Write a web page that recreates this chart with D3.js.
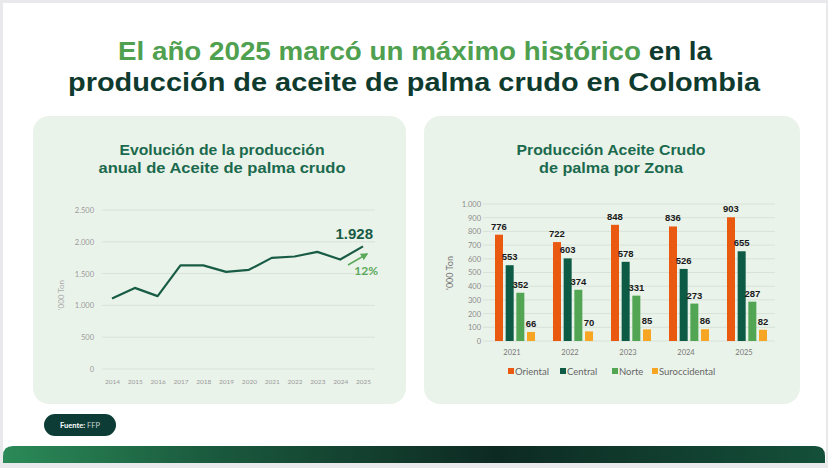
<!DOCTYPE html>
<html>
<head>
<meta charset="utf-8">
<script src="https://cdn.jsdelivr.net/npm/d3@7"></script>
<style>
  body { margin: 0; background: #fff; }
  svg { display: block; }
</style>
</head>
<body>
<div id="chart"></div>
<script>
// data
const years = ['2014','2015','2016','2017','2018','2019','2020','2021','2022','2023','2024','2025'];
const production = [1110, 1275, 1146, 1628, 1630, 1527, 1559, 1747, 1769, 1842, 1721, 1928];
const lineTicks = [0, 500, 1000, 1500, 2000, 2500];

const zoneYears = ['2021','2022','2023','2024','2025'];
const zones = ['Oriental','Central','Norte','Suroccidental'];
const oriental = [776, 722, 848, 836, 903];
const central = [553, 603, 578, 526, 655];
const norte = [352, 374, 331, 273, 287];
const suroccidental = [66, 70, 85, 86, 82];
const barTicks = [0,100,200,300,400,500,600,700,800,900,1000];

const zoneColors = ['#e9590f', '#0d5a45', '#52a552', '#f6a623'];

const width = 828, height = 468;
const fmt = d3.format(',');
const esNum = v => fmt(v).replace(/,/g, '.');
const font = 'Lato, "Open Sans", sans-serif';

const svg = d3.select('#chart').append('svg')
  .attr('width', width)
  .attr('height', height);

// page frame
svg.append('rect').attr('width', width).attr('height', height).attr('fill', '#e9e9ec');
svg.append('rect').attr('x', 3).attr('y', 3).attr('width', width - 5).attr('height', 460).attr('fill', '#fff');

// bottom band
const grad = svg.append('defs').append('linearGradient').attr('id', 'band');
grad.append('stop').attr('offset', '0%').attr('stop-color', '#2b8a57');
grad.append('stop').attr('offset', '25%').attr('stop-color', '#1a5a3e');
grad.append('stop').attr('offset', '60%').attr('stop-color', '#0d2a22');
grad.append('stop').attr('offset', '100%').attr('stop-color', '#14503a');
svg.append('path')
  .attr('d', 'M3,463 L3,456 Q3,446 13,446 L815,446 Q825,446 825,456 L825,463 Z')
  .attr('fill', 'url(#band)');

// main title
const t1 = svg.append('text')
  .attr('x', 415).attr('y', 60)
  .attr('text-anchor', 'middle')
  .attr('font-family', '"Liberation Sans", Arial, sans-serif')
  .attr('font-weight', 'bold')
  .attr('font-size', 26)
  .attr('textLength', 594).attr('lengthAdjust', 'spacingAndGlyphs');
t1.append('tspan').attr('fill', '#4fa04f').text('El año 2025 marcó un máximo histórico ');
t1.append('tspan').attr('fill', '#0f3b2f').text('en la');
svg.append('text')
  .attr('x', 414).attr('y', 91)
  .attr('text-anchor', 'middle')
  .attr('font-family', '"Liberation Sans", Arial, sans-serif')
  .attr('font-weight', 'bold')
  .attr('font-size', 26)
  .attr('fill', '#0f3b2f')
  .attr('textLength', 692).attr('lengthAdjust', 'spacingAndGlyphs')
  .text('producción de aceite de palma crudo en Colombia');

// panels
svg.append('rect').attr('x', 33).attr('y', 116).attr('width', 373).attr('height', 288)
  .attr('rx', 16).attr('fill', '#eaf3ea');
svg.append('rect').attr('x', 424).attr('y', 116).attr('width', 376).attr('height', 288)
  .attr('rx', 16).attr('fill', '#eaf3ea');

function panelTitle(lines, cx, ys, lens) {
  lines.forEach((s, i) => {
    svg.append('text')
      .attr('x', cx).attr('y', ys[i])
      .attr('text-anchor', 'middle')
      .attr('font-family', '"Liberation Sans", Arial, sans-serif')
      .attr('font-weight', 'bold')
      .attr('font-size', 15)
      .attr('fill', '#1b6a4e')
      .attr('textLength', lens[i]).attr('lengthAdjust', 'spacingAndGlyphs')
      .text(s);
  });
}
panelTitle(['Evolución de la producción', 'anual de Aceite de palma crudo'], 222, [155, 173], [205, 247]);
panelTitle(['Producción Aceite Crudo', 'de palma por Zona'], 611, [155, 173], [189, 144]);

// ---------- line chart ----------
const xL = d3.scalePoint().domain(years).range([112, 363]);
const yL = d3.scaleLinear().domain([0, 2500]).range([369, 210]);

const gL = svg.append('g');
gL.selectAll('.grid').data(lineTicks).enter().append('line')
  .attr('x1', 102).attr('x2', 375)
  .attr('y1', d => yL(d)).attr('y2', d => yL(d))
  .attr('stroke', '#d8e2d8').attr('stroke-width', 1);

const axL = gL.append('g').attr('transform', 'translate(96,0)')
  .call(d3.axisLeft(yL).tickValues(lineTicks).tickSize(0).tickFormat(esNum));
axL.select('.domain').remove();
axL.selectAll('text').attr('font-family', font).attr('font-size', 7.5).attr('fill', '#9a9a9a').attr('x', -2);

const axLx = gL.append('g').attr('transform', 'translate(0,376)')
  .call(d3.axisBottom(xL).tickSize(0));
axLx.select('.domain').remove();
axLx.selectAll('text').attr('font-family', font).attr('font-size', 6.5).attr('fill', '#9a9a9a');

gL.append('text')
  .attr('transform', 'translate(64,295) rotate(-90)')
  .attr('text-anchor', 'middle')
  .attr('font-family', font).attr('font-size', 8).attr('fill', '#aaa')
  .text("'000 Ton");

gL.append('path')
  .datum(production)
  .attr('fill', 'none')
  .attr('stroke', '#185c45')
  .attr('stroke-width', 2.2)
  .attr('stroke-linejoin', 'round')
  .attr('d', d3.line().x((d, i) => xL(years[i])).y(d => yL(d)));

const last = production[production.length - 1];
gL.append('text')
  .attr('x', xL('2025') + 10).attr('y', yL(last) - 7)
  .attr('text-anchor', 'end')
  .attr('font-family', '"Liberation Sans", Arial, sans-serif')
  .attr('font-weight', 'bold').attr('font-size', 15)
  .attr('fill', '#185c45')
  .text(esNum(last));

// growth arrow
const growth = Math.round((last / production[production.length - 2] - 1) * 100);
svg.append('defs').append('marker')
  .attr('id', 'arr').attr('viewBox', '0 0 10 10').attr('refX', 8).attr('refY', 5)
  .attr('markerWidth', 5).attr('markerHeight', 5).attr('orient', 'auto')
  .append('path').attr('d', 'M0,0 L10,5 L0,10 Z').attr('fill', '#5aa95a');
gL.append('line')
  .attr('x1', 348).attr('y1', 265).attr('x2', 367).attr('y2', 254)
  .attr('stroke', '#5aa95a').attr('stroke-width', 1.5)
  .attr('marker-end', 'url(#arr)');
gL.append('text')
  .attr('x', 378).attr('y', 275)
  .attr('text-anchor', 'end')
  .attr('font-family', font).attr('font-weight', 'bold').attr('font-size', 12)
  .attr('fill', '#5aa95a')
  .text(growth + '%');

// ---------- bar chart ----------
const series = [oriental, central, norte, suroccidental];
const x0 = d3.scaleBand().domain(zoneYears).range([486, 776]).paddingInner(0.31).paddingOuter(0.155);
const x1 = d3.scaleBand().domain(zones).range([0, x0.bandwidth()]).paddingInner(0.25);
const yB = d3.scaleLinear().domain([0, 1000]).range([341, 204]);

const gB = svg.append('g');
gB.selectAll('.grid').data(barTicks).enter().append('line')
  .attr('x1', 483).attr('x2', 775)
  .attr('y1', d => yB(d)).attr('y2', d => yB(d))
  .attr('stroke', '#d8e2d8').attr('stroke-width', 1);

const axB = gB.append('g').attr('transform', 'translate(482,0)')
  .call(d3.axisLeft(yB).tickValues(barTicks).tickSize(0).tickFormat(esNum));
axB.select('.domain').remove();
axB.selectAll('text').attr('font-family', font).attr('font-size', 7.5).attr('fill', '#8a8a8a').attr('x', -1);

const axBx = gB.append('g').attr('transform', 'translate(-3,347)')
  .call(d3.axisBottom(x0).tickSize(0));
axBx.select('.domain').remove();
axBx.selectAll('text').attr('font-family', font).attr('font-size', 7.5).attr('fill', '#777');

gB.append('text')
  .attr('transform', 'translate(453,273) rotate(-90)')
  .attr('text-anchor', 'middle')
  .attr('font-family', font).attr('font-size', 9).attr('fill', '#777')
  .text("'000 Ton");

const rows = [];
zoneYears.forEach((yr, i) => {
  zones.forEach((z, j) => rows.push({ year: yr, zone: z, value: series[j][i], color: zoneColors[j] }));
});

gB.selectAll('.bar').data(rows).enter().append('rect')
  .attr('class', 'bar')
  .attr('x', d => x0(d.year) + x1(d.zone))
  .attr('y', d => yB(d.value))
  .attr('width', x1.bandwidth())
  .attr('height', d => yB(0) - yB(d.value))
  .attr('fill', d => d.color);

gB.selectAll('.lbl').data(rows).enter().append('text')
  .attr('x', d => x0(d.year) + x1(d.zone) + x1.bandwidth() / 2)
  .attr('y', d => yB(d.value) - 5)
  .attr('text-anchor', 'middle')
  .attr('font-family', '"Liberation Sans", Arial, sans-serif')
  .attr('font-weight', 'bold').attr('font-size', 9.5)
  .attr('fill', '#1a1a1a')
  .text(d => d.value);

// legend
const legendX = [508, 560, 612, 652];
const leg = gB.selectAll('.leg').data(zones).enter().append('g')
  .attr('transform', (d, i) => `translate(${legendX[i]},372)`);
leg.append('rect').attr('x', 0).attr('y', -4).attr('width', 6).attr('height', 6)
  .attr('fill', (d, i) => zoneColors[i]);
leg.append('text').attr('x', 7).attr('y', 2.5)
  .attr('font-family', font).attr('font-size', 9.5).attr('fill', '#666')
  .text(d => d);

// source badge
svg.append('rect').attr('x', 44).attr('y', 414).attr('width', 72).attr('height', 22)
  .attr('rx', 11).attr('fill', '#0d3b36');
const src = svg.append('text').attr('x', 80).attr('y', 428)
  .attr('text-anchor', 'middle')
  .attr('font-family', font).attr('font-size', 7.5);
src.append('tspan').attr('font-weight', 'bold').attr('fill', '#fff').text('Fuente: ');
src.append('tspan').attr('fill', '#c8d3d0').text('FFP');
</script>
</body>
</html>
